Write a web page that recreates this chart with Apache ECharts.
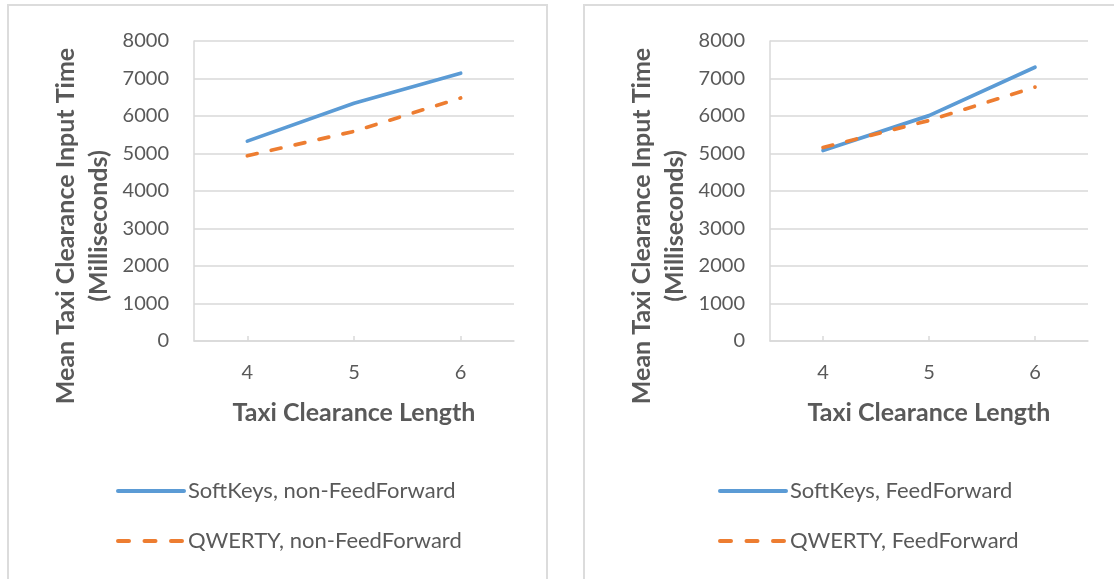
<!DOCTYPE html>
<html>
<head>
<meta charset="utf-8">
<script src="https://cdn.jsdelivr.net/npm/echarts@6/dist/echarts.min.js"></script>
<style>
  html, body { margin: 0; padding: 0; background: #ffffff; }
  #chart { width: 1114px; height: 579px; }
</style>
</head>
<body>
<div id="chart"></div>
<script>
// ---- data ----
const categories = ['4', '5', '6'];
const softKeysNonFF = [5330, 6340, 7140];
const qwertyNonFF = [4940, 5590, 6480];
const softKeysFF = [5080, 6010, 7300];
const qwertyFF = [5160, 5880, 6770];
const yTicks = { min: 0, max: 8000, interval: 1000 };
const yTitle1 = 'Mean Taxi Clearance Input Time';
const yTitle2 = '(Milliseconds)';
const xTitle = 'Taxi Clearance Length';
const names = ['SoftKeys, non-FeedForward', 'QWERTY, non-FeedForward', 'SoftKeys, FeedForward', 'QWERTY, FeedForward'];

// ---- styles ----
const FONT = 'Lato';
const GRID_C = '#d9d9d9';
const TXT_C = '#595959';
const BLUE = '#5B9BD5';
const ORANGE = '#ED7D31';
const DASH = [10, 14.5];

const chart = echarts.init(document.getElementById('chart'), null, { renderer: 'canvas' });

function xAxis(idx) {
  return {
    type: 'category', gridIndex: idx, data: categories, boundaryGap: true,
    axisLine: { lineStyle: { color: GRID_C, width: 1.5 } },
    axisTick: { show: true, inside: true, alignWithLabel: true, length: 5, lineStyle: { color: GRID_C, width: 1.5 } },
    axisLabel: { color: TXT_C, fontFamily: FONT, fontSize: 20, margin: 22 },
    name: xTitle, nameLocation: 'middle', nameGap: 59,
    nameTextStyle: { color: TXT_C, fontFamily: FONT, fontSize: 25, fontWeight: 'bold' }
  };
}
function yAxis(idx) {
  return {
    type: 'value', gridIndex: idx, min: yTicks.min, max: yTicks.max, interval: yTicks.interval,
    axisLine: { show: true, lineStyle: { color: GRID_C, width: 1.5 } },
    axisTick: { show: false },
    splitLine: { lineStyle: { color: GRID_C, width: 1.5 } },
    axisLabel: { color: TXT_C, fontFamily: FONT, fontSize: 20, margin: 25, formatter: v => String(v) }
  };
}
function series(name, data, idx, color, dashed) {
  return {
    name, type: 'line', xAxisIndex: idx, yAxisIndex: idx, data,
    symbol: 'none', smooth: false,
    lineStyle: { color, width: 3.7, type: dashed ? DASH : 'solid', cap: 'round', join: 'round' },
    itemStyle: { color },
    emphasis: { disabled: true }
  };
}
function legendItem(name, color, dashed) {
  return {
    name,
    itemStyle: { opacity: 0 },
    lineStyle: { color, width: 4, type: dashed ? [11, 15.5] : 'solid', cap: 'round' }
  };
}
function legend(left, items) {
  return {
    orient: 'vertical', left, top: 475, itemWidth: 66, itemHeight: 24, itemGap: 28,
    data: items, itemStyle: { opacity: 0 },
    textStyle: { color: TXT_C, fontFamily: FONT, fontSize: 22, padding: [0, 0, 0, -1] },
    selectedMode: false
  };
}
function yTitleText(x, text) {
  return {
    type: 'text', x, y: 226, rotation: Math.PI / 2,
    style: { text, fill: TXT_C, font: 'bold 25px ' + FONT, align: 'center', verticalAlign: 'middle' }
  };
}

chart.setOption({
  animation: false,
  grid: [
    { left: 194, top: 41, width: 320, height: 300 },
    { left: 770, top: 41, width: 318, height: 300 }
  ],
  xAxis: [xAxis(0), xAxis(1)],
  yAxis: [yAxis(0), yAxis(1)],
  legend: [
    legend(111, [legendItem(names[0], BLUE, false), legendItem(names[1], ORANGE, true)]),
    legend(713, [legendItem(names[2], BLUE, false), legendItem(names[3], ORANGE, true)])
  ],
  series: [
    series(names[0], softKeysNonFF, 0, BLUE, false),
    series(names[1], qwertyNonFF, 0, ORANGE, true),
    series(names[2], softKeysFF, 1, BLUE, false),
    series(names[3], qwertyFF, 1, ORANGE, true)
  ],
  graphic: [
    { type: 'rect', shape: { x: 8, y: 5, width: 539, height: 600 }, style: { fill: 'none', stroke: '#dcdcdc', lineWidth: 2 }, z: -10 },
    { type: 'rect', shape: { x: 584, y: 5, width: 600, height: 600 }, style: { fill: 'none', stroke: '#dcdcdc', lineWidth: 2 }, z: -10 },
    yTitleText(66, yTitle1), yTitleText(99, yTitle2),
    yTitleText(642, yTitle1), yTitleText(675, yTitle2)
  ]
});
</script>
</body>
</html>
